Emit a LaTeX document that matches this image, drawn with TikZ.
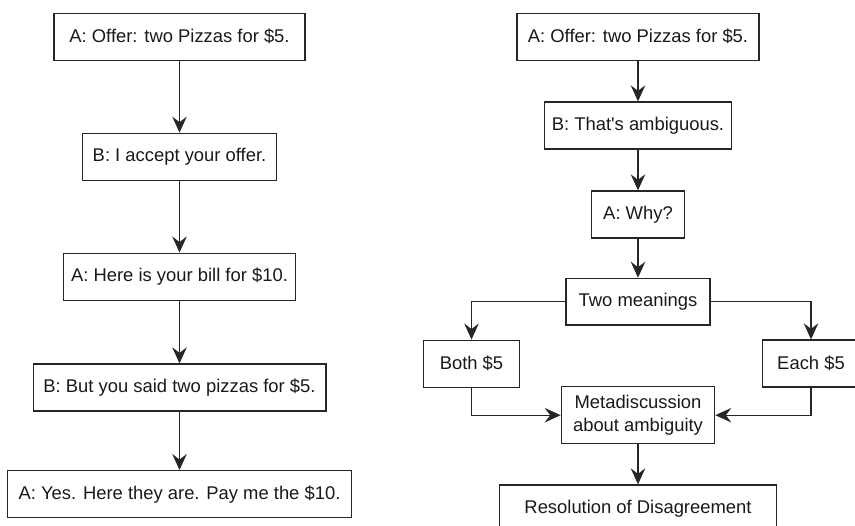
\documentclass[tikz,border=0pt]{standalone}
\usepackage{fontspec}
\setmainfont{Liberation Sans}[Ligatures=TeXOff]
\usetikzlibrary{arrows.meta}
\begin{document}
\begin{tikzpicture}[x=1pt,y=-1pt,
  box/.style={draw=black!85, line width=1.3pt, inner sep=0pt, minimum height=47pt,
    font=\fontsize{18.4}{23.3}\selectfont, text=black!90, align=center},
  conn/.style={draw=black!85, line width=1.3pt, -{Stealth[length=16pt,width=14.5pt,inset=5.5pt]}}]
\useasboundingbox (0,0) rectangle (855,526);
% left column
\node[box, minimum width=251pt]   (L1) at (179.5,36.8)  {A: Offer: two Pizzas for \$5.};
\node[box, minimum width=194.4pt] (L2) at (179.5,156.8) {B: I accept your offer.};
\node[box, minimum width=231.7pt] (L3) at (179.5,276.7) {A: Here is your bill for \$10.};
\node[box, minimum width=292.7pt] (L4) at (179.5,387.5) {B: But you said two pizzas for \$5.};
\node[box, minimum width=343.4pt] (L5) at (179.5,494.2) {A: Yes. Here they are. Pay me the \$10.};
\draw[conn] (L1) -- (L2);
\draw[conn] (L2) -- (L3);
\draw[conn] (L3) -- (L4);
\draw[conn] (L4) -- (L5);
% right column
\node[box, minimum width=242pt]   (R1) at (638,36.8)  {A: Offer: two Pizzas for \$5.};
\node[box, minimum width=187.3pt] (R2) at (638,125.5) {B: That's ambiguous.};
\node[box, minimum width=93pt]    (R3) at (638,214.5) {A: Why?};
\node[box, minimum width=144pt, minimum height=46.7pt] (TM) at (638,301.7) {Two meanings};
\node[box, minimum width=96.4pt]  (BO) at (471.5,363.7) {Both \$5};
\node[box, minimum width=96.6pt]  (EA) at (811,363.5) {Each \$5};
\node[box, minimum width=153.3pt, minimum height=57pt] (ME) at (638,415.2) {Metadiscussion\\about ambiguity};
\node[box, minimum width=276.7pt] (RE) at (638,508.5) {Resolution of Disagreement};
\draw[conn] (R1) -- (R2);
\draw[conn] (R2) -- (R3);
\draw[conn] (R3) -- (TM);
\draw[conn] (TM.west) -| (BO.north);
\draw[conn] (TM.east) -| (EA.north);
\draw[conn] (BO.south) |- (ME.west);
\draw[conn] (EA.south) |- (ME.east);
\draw[conn] (ME) -- (RE);
\end{tikzpicture}
\end{document}
